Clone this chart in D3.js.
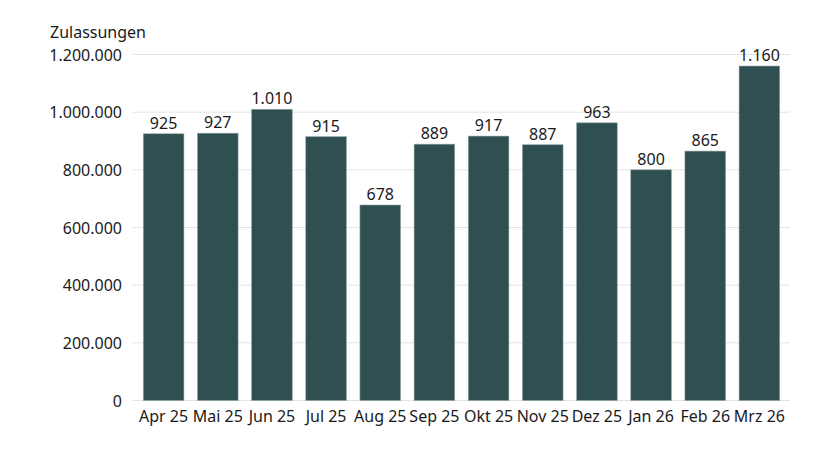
<!DOCTYPE html>
<html>
<head>
<meta charset="utf-8">
<script src="https://cdn.jsdelivr.net/npm/d3@7"></script>
<style>
  body { margin: 0; background: #fff; }
  svg text { font-family: "Noto Sans", "Open Sans", sans-serif; fill: #1a1a1a; }
</style>
</head>
<body>
<script>
(function() {
    'use strict';

    // Monate und Zulassungen
    var months = ["Apr 25", "Mai 25", "Jun 25", "Jul 25", "Aug 25", "Sep 25",
                  "Okt 25", "Nov 25", "Dez 25", "Jan 26", "Feb 26", "Mrz 26"];
    var registrations = [925000, 927000, 1010000, 915000, 678000, 889000,
                         917000, 887000, 963000, 800000, 865000, 1160000];
    var yTicks = [0, 200000, 400000, 600000, 800000, 1000000, 1200000];

    var w = 840;
    var h = 453;
    var margin = {top: 54.5, right: 50, bottom: 52.5, left: 133};

    var de = d3.formatLocale({decimal: ",", thousands: ".", grouping: [3], currency: ["", " €"]});
    var fmt = de.format(",d");

    var svg = d3.select("body")
                .append("svg")
                .attr("width", w)
                .attr("height", h);

    var x = d3.scaleBand()
              .domain(months)
              .range([margin.left, w - margin.right])
              .paddingInner(0.25)
              .paddingOuter(0.19);

    var y = d3.scaleLinear()
              .domain([0, 1200000])
              .range([h - margin.bottom, margin.top]);

    // Gitterlinien
    svg.append("g")
       .selectAll("line")
       .data(yTicks)
       .enter()
       .append("line")
       .attr("x1", margin.left)
       .attr("x2", w - margin.right)
       .attr("y1", function(d) { return y(d); })
       .attr("y2", function(d) { return y(d); })
       .attr("stroke", "#e3e3e3")
       .attr("stroke-width", 1);

    var yAxis = svg.append("g")
       .attr("transform", "translate(" + (margin.left - 8) + ",0)")
       .call(d3.axisLeft(y).tickValues(yTicks).tickSize(0).tickFormat(fmt));
    yAxis.select(".domain").remove();
    yAxis.selectAll("text").attr("font-size", 16).attr("dy", "0.35em");

    svg.append("text")
       .attr("x", 50)
       .attr("y", 38)
       .attr("font-size", 16)
       .text("Zulassungen");

    svg.selectAll("rect.bar")
       .data(registrations)
       .enter()
       .append("rect")
       .attr("class", "bar")
       .attr("x", function(d, i) { return x(months[i]); })
       .attr("y", function(d) { return y(d); })
       .attr("width", x.bandwidth())
       .attr("height", function(d) { return y(0) - y(d); })
       .attr("fill", "#2f4f51")
       .attr("stroke", "#8fa3a3")
       .attr("stroke-width", 0.6);

    svg.selectAll("text.val")
       .data(registrations)
       .enter()
       .append("text")
       .attr("class", "val")
       .attr("x", function(d, i) { return x(months[i]) + x.bandwidth() / 2; })
       .attr("y", function(d) { return y(d) - 5; })
       .attr("text-anchor", "middle")
       .attr("font-size", 16)
       .text(function(d) { return fmt(d / 1000); });

    var xAxis = svg.append("g")
       .attr("transform", "translate(0," + (h - margin.bottom) + ")")
       .call(d3.axisBottom(x).tickSize(0).tickPadding(10));
    xAxis.select(".domain").remove();
    xAxis.selectAll("text").attr("font-size", 16).attr("dy", "0.71em");
}());
</script>
</body>
</html>
